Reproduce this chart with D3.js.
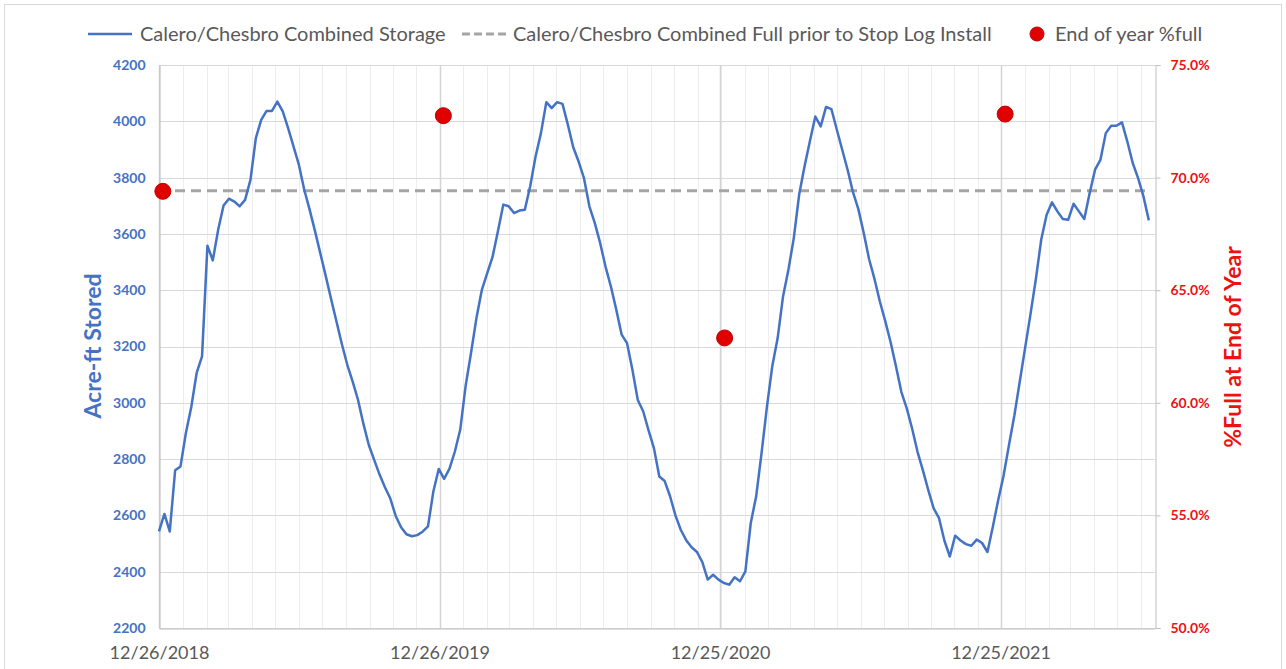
<!DOCTYPE html>
<html>
<head>
<meta charset="utf-8">
<script src="https://cdn.jsdelivr.net/npm/d3@7"></script>
<style>
  body { margin: 0; background: #fff; }
  svg { font-family: Lato, "Open Sans", sans-serif; }
</style>
</head>
<body>
<div id="chart"></div>
<script>
// weekly storage readings, starting 12/26/2018 (acre-ft)
var startDate = "2018-12-26"
var storage = [
  2543, 2605, 2543, 2760, 2774, 2893, 2985, 3106, 3165, 3558, 3506, 3615, 3701, 3725, 3715, 3698, 3721, 3792, 3940, 4005, 4037, 4037, 4070, 4035, 3976, 3911, 3846, 3757, 3686,
  3610, 3530, 3450, 3368, 3288, 3208, 3135, 3075, 3010, 2925, 2850, 2797, 2745, 2700, 2660, 2598, 2558, 2533, 2526, 2530, 2542, 2561, 2685, 2765, 2730, 2766, 2827, 2905, 3060, 3177,
  3300, 3400, 3460, 3518, 3609, 3704, 3698, 3674, 3683, 3686, 3769, 3875, 3958, 4068, 4047, 4068, 4062, 3988, 3908, 3857, 3798, 3698, 3639, 3568, 3484, 3413, 3331, 3242, 3212,
  3117, 3010, 2970, 2902, 2839, 2738, 2722, 2668, 2600, 2548, 2512, 2487, 2470, 2434, 2372, 2389, 2372, 2360, 2354, 2380, 2366, 2401, 2573, 2667,
  2820, 2985, 3130, 3230, 3378, 3473, 3585, 3740, 3840, 3930, 4017, 3982, 4051, 4043, 3970, 3899, 3828, 3748, 3688, 3603, 3510, 3440, 3360, 3290, 3215,
  3129, 3038, 2980, 2908, 2826, 2760, 2690, 2625, 2590, 2510, 2454, 2528, 2511, 2498, 2492, 2514, 2502, 2470, 2560, 2655, 2742, 2850, 2955, 3075,
  3195, 3315, 3440, 3580, 3668, 3712, 3680, 3653, 3650, 3707, 3680, 3653, 3745, 3828, 3863, 3958, 3984, 3984, 3996, 3928, 3852, 3798, 3733, 3648
]

// full level before the stop logs went in
var fullLevel = 3753

// end of year % full
var yearEndDates = ["2018-12-31", "2019-12-31", "2020-12-31", "2021-12-31"]
var yearEndPct = [0.6939, 0.7275, 0.6288, 0.7282]

// axes
var xTickDates = ["2018-12-26", "2019-12-26", "2020-12-25", "2021-12-25"]
var xEndDate = "2022-07-14"
var leftTicks = [2200, 2400, 2600, 2800, 3000, 3200, 3400, 3600, 3800, 4000, 4200]
var rightTicks = [0.50, 0.55, 0.60, 0.65, 0.70, 0.75]

var legendLabels = ["Calero/Chesbro Combined Storage",
                    "Calero/Chesbro Combined Full prior to Stop Log Install",
                    "End of year %full"]

var w = 1286
var h = 669
var blue = "#4472C4"
var red = "#ee1111"
var grey = "#595959"

var parse = d3.utcParse("%Y-%m-%d")
var start = parse(startDate)

var data = storage.map(function (v, i) {
  return { date: d3.utcDay.offset(start, i * 7), v: v }
})

var svg = d3.select("#chart")
  .append("svg")
  .attr("width", w)
  .attr("height", h)

svg.append("rect")
  .attr("x", 4.5).attr("y", 4.5)
  .attr("width", 1277).attr("height", 700)
  .attr("fill", "#fff")
  .attr("stroke", "#d9d9d9")

var x = d3.scaleUtc()
  .domain([start, parse(xEndDate)])
  .range([159, 1155])

var yL = d3.scaleLinear().domain([2200, 4200]).range([628, 65])
var yR = d3.scaleLinear().domain([0.5, 0.75]).range([628, 65])

// minor vertical gridlines, monthly
var minor = []
for (var m = 1; d3.utcMonth.offset(start, m) < x.domain()[1]; m++) {
  minor.push(d3.utcMonth.offset(start, m))
}
svg.append("g").selectAll("line")
  .data(minor)
  .enter()
  .append("line")
  .attr("x1", d => Math.round(x(d)) + 0.5)
  .attr("x2", d => Math.round(x(d)) + 0.5)
  .attr("y1", 65).attr("y2", 628)
  .attr("stroke", "#ededed")

// horizontal gridlines
svg.append("g").selectAll("line")
  .data(leftTicks)
  .enter()
  .append("line")
  .attr("x1", 159).attr("x2", 1155)
  .attr("y1", d => Math.round(yL(d)) + 0.5)
  .attr("y2", d => Math.round(yL(d)) + 0.5)
  .attr("stroke", "#d9d9d9")

// major vertical gridlines
svg.append("g").selectAll("line")
  .data(xTickDates.map(parse))
  .enter()
  .append("line")
  .attr("x1", d => Math.round(x(d)) + 0.5)
  .attr("x2", d => Math.round(x(d)) + 0.5)
  .attr("y1", 65).attr("y2", 628)
  .attr("stroke", "#d4d4d4")
  .attr("stroke-width", 1.5)

// left axis
var axL = svg.append("g")
  .attr("transform", "translate(159.5,0)")
  .call(d3.axisLeft(yL).tickValues(leftTicks).tickSize(0).tickPadding(14).tickFormat(d3.format("d")))
axL.select(".domain").attr("stroke", "#bfbfbf")
axL.selectAll("text")
  .attr("fill", blue)
  .attr("font-size", "14px")
  .attr("font-weight", "bold")
  .attr("font-family", "Lato, sans-serif")

// right axis
var axR = svg.append("g")
  .attr("transform", "translate(1155.5,0)")
  .call(d3.axisRight(yR).tickValues(rightTicks).tickSize(5).tickPadding(10).tickFormat(d3.format(".1%")))
axR.select(".domain").attr("stroke", "#bfbfbf")
axR.selectAll("line").attr("stroke", "#bfbfbf")
axR.selectAll("text")
  .attr("fill", red)
  .attr("font-size", "14px")
  .attr("font-weight", "bold")
  .attr("font-family", "Lato, sans-serif")

// bottom axis
var axB = svg.append("g")
  .attr("transform", "translate(0,628.5)")
  .call(d3.axisBottom(x).tickValues(xTickDates.map(parse)).tickSize(0).tickPadding(18).tickFormat(d3.utcFormat("%m/%d/%Y")))
axB.select(".domain").attr("stroke", "#bfbfbf")
axB.selectAll("text")
  .attr("fill", grey)
  .attr("font-size", "18px")
  .attr("font-family", "Lato, sans-serif")

// axis titles
svg.append("text")
  .attr("transform", "translate(101,346) rotate(-90)")
  .attr("text-anchor", "middle")
  .attr("fill", blue)
  .attr("font-size", "23px")
  .attr("font-weight", "bold")
  .text("Acre-ft Stored")

svg.append("text")
  .attr("transform", "translate(1241,347) rotate(-90)")
  .attr("text-anchor", "middle")
  .attr("fill", red)
  .attr("font-size", "23px")
  .attr("font-weight", "bold")
  .text("%Full at End of Year")

// full level dashed line
svg.append("line")
  .attr("x1", x(data[0].date)).attr("x2", x(data[data.length - 1].date))
  .attr("y1", yL(fullLevel)).attr("y2", yL(fullLevel))
  .attr("stroke", "#a5a5a5")
  .attr("stroke-width", 3)
  .attr("stroke-dasharray", "10,6")

// storage line
var line = d3.line()
  .x(d => x(d.date))
  .y(d => yL(d.v))

svg.append("path")
  .datum(data)
  .attr("d", line)
  .attr("fill", "none")
  .attr("stroke", blue)
  .attr("stroke-width", 2.5)
  .attr("stroke-linejoin", "round")

// end of year dots
svg.append("g").selectAll("circle")
  .data(yearEndDates.map((d, i) => [parse(d), yearEndPct[i]]))
  .enter()
  .append("circle")
  .attr("cx", d => x(d[0]))
  .attr("cy", d => yR(d[1]))
  .attr("r", 8)
  .attr("fill", "#e00000")
  .attr("stroke", "#c00000")
  .attr("stroke-width", 1)

// legend
var lg = svg.append("g").attr("font-size", "20px").attr("fill", grey)
lg.append("line").attr("x1", 88).attr("x2", 132).attr("y1", 34).attr("y2", 34)
  .attr("stroke", blue).attr("stroke-width", 2.5)
lg.append("text").attr("x", 140).attr("y", 41).text(legendLabels[0])
lg.append("line").attr("x1", 462).attr("x2", 506).attr("y1", 34).attr("y2", 34)
  .attr("stroke", "#a5a5a5").attr("stroke-width", 3).attr("stroke-dasharray", "8,4")
lg.append("text").attr("x", 513).attr("y", 41).text(legendLabels[1])
lg.append("circle").attr("cx", 1037).attr("cy", 34).attr("r", 7)
  .attr("fill", "#e00000").attr("stroke", "#c00000")
lg.append("text").attr("x", 1055).attr("y", 41).text(legendLabels[2])
</script>
</body>
</html>
